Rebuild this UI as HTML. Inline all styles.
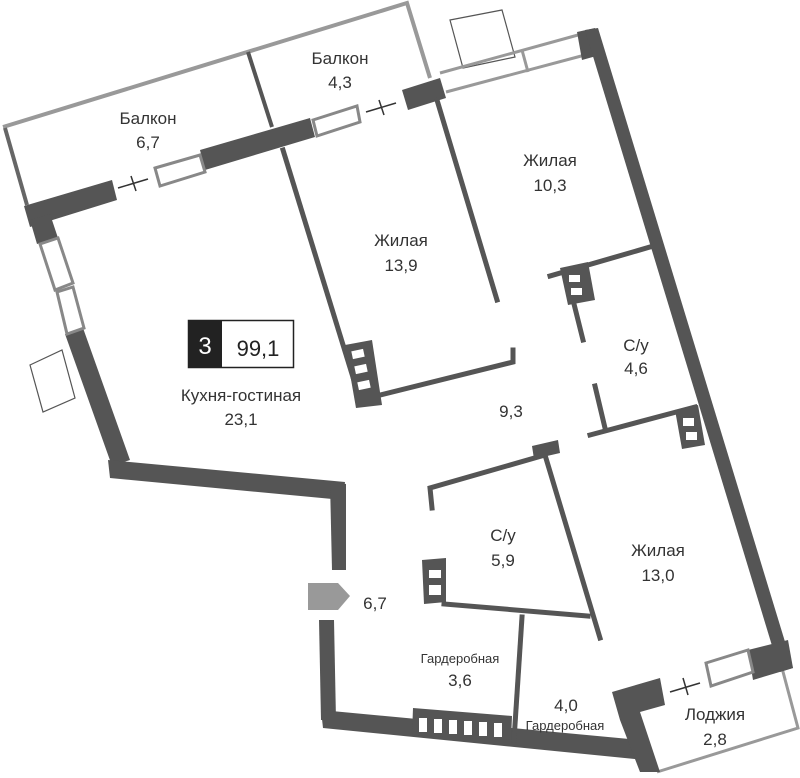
<!DOCTYPE html>
<html><head><meta charset="utf-8"><style>
body{margin:0;background:#fff}
svg{display:block}
text{font-family:"Liberation Sans","DejaVu Sans",sans-serif;fill:#333;text-anchor:middle}
</style></head><body>
<svg width="800" height="778" viewBox="0 0 800 778" xmlns="http://www.w3.org/2000/svg">
<g fill="none" stroke-linejoin="miter">
<polyline points="3,127 407,3 430,78" stroke="#999" stroke-width="4"/>
<line x1="5" y1="128" x2="27" y2="205" stroke="#666" stroke-width="4"/>
<line x1="248" y1="52" x2="272" y2="127" stroke="#555" stroke-width="4"/>
<polygon points="450,20 502,10 515,57 463,68" stroke="#555" stroke-width="1.2" fill="#fff"/>
<polyline points="440,73 578,35" stroke="#999" stroke-width="3"/>
<polyline points="446,92 585,55" stroke="#999" stroke-width="3"/>
<line x1="522" y1="50" x2="528" y2="72" stroke="#999" stroke-width="3"/>
<polygon points="30,365 62,350 75,398 43,412" stroke="#555" stroke-width="1.2" fill="#fff"/>
<polyline points="782,668 798,728 657,772" stroke="#999" stroke-width="3"/>
</g>
<g fill="#555" stroke="none">
<polygon points="24,206 112,180 117,200 30,227"/>
<polygon points="30,220 50,214 58,238 37,244"/>
<polygon points="200,150 310,118 315,137 205,170"/>
<polygon points="402,90 440,78 446,98 408,110"/>
<polygon points="577,32 595,28 600,55 582,60"/>
<polygon points="65,334 83,328 130,460 112,466"/>
<polygon points="585,30 598,28 793,668 780,672"/>
<polygon points="748,650 788,640 793,668 753,680"/>
<polygon points="108,460 345,482 343,500 110,478"/>
<polygon points="330,482 346,484 346,570 332,570"/>
<polygon points="319,620 334,620 336,720 321,720"/>
<polygon points="321,710 640,740 645,760 323,728"/>
<polygon points="612,692 660,678 665,705 640,712 660,772 640,772 620,720"/>
</g>
<g fill="#fff" stroke="#888" stroke-width="3">
<polygon points="155,168 200,155 205,172 160,186"/>
<polygon points="313,120 357,106 360,122 317,136"/>
<polygon points="40,244 58,238 73,283 55,290"/>
<polygon points="57,292 73,287 84,328 67,334"/>
<polygon points="706,663 748,650 753,672 711,686"/>
</g>
<g stroke="#333" stroke-width="1.5">
<line x1="118" y1="188" x2="148" y2="179"/><line x1="131" y1="176" x2="136" y2="191"/>
<line x1="366" y1="112" x2="396" y2="103"/><line x1="379" y1="100" x2="384" y2="115"/>
<line x1="670" y1="692" x2="700" y2="683"/><line x1="683" y1="678" x2="688" y2="695"/>
</g>
<g fill="none" stroke="#555" stroke-width="5" stroke-linecap="square">
<line x1="283" y1="150" x2="360" y2="400"/>
<polyline points="360,400 513,362 513,350"/>
<line x1="437" y1="100" x2="497" y2="300"/>
<polyline points="650,247 550,276"/>
<line x1="573" y1="300" x2="583" y2="340"/>
<line x1="595" y1="386" x2="605" y2="428"/>
<line x1="590" y1="435" x2="695" y2="407"/>
<polyline points="432,508 430,488 545,455 600,638"/>
<polyline points="444,604 588,616"/>
<line x1="522" y1="617" x2="514" y2="740"/>
</g>
<g fill="#555">
<polygon points="532,446 558,440 560,453 534,459"/>
<polygon points="345,345 372,340 382,405 356,408"/>
<polygon points="560,268 588,262 595,300 568,305"/>
<polygon points="675,410 698,405 705,445 682,449"/>
<polygon points="422,560 446,558 446,602 424,604"/>
<polygon points="413,708 512,716 511,740 412,735"/>
</g>
<g fill="#fff">
<rect x="352" y="350" width="12" height="8" transform="rotate(-12 358 354)"/>
<rect x="355" y="365" width="12" height="8" transform="rotate(-12 361 369)"/>
<rect x="358" y="381" width="12" height="8" transform="rotate(-12 364 385)"/>
<rect x="569" y="275" width="11" height="7"/><rect x="571" y="288" width="11" height="7"/>
<rect x="683" y="418" width="11" height="8"/><rect x="686" y="432" width="11" height="8"/>
<rect x="429" y="570" width="12" height="8"/><rect x="429" y="585" width="12" height="10"/>
<rect x="419" y="718" width="8" height="14"/><rect x="434" y="719" width="8" height="14"/><rect x="449" y="720" width="8" height="14"/><rect x="464" y="721" width="8" height="14"/><rect x="479" y="722" width="8" height="14"/><rect x="494" y="723" width="8" height="14"/>
</g>
<polygon points="308,583 338,583 350,596 338,610 308,610" fill="#999"/>
<rect x="188.5" y="320.5" width="105" height="47" fill="#fff" stroke="#222" stroke-width="1.5"/>
<rect x="188" y="320" width="34" height="48" fill="#222"/>
<text x="205" y="354" style="fill:#fff;font-size:24px">3</text>
<text x="258" y="356" style="font-size:22px;fill:#222">99,1</text>
<g style="font-size:17px">
<text x="148" y="124">Балкон</text><text x="148" y="148">6,7</text>
<text x="340" y="64">Балкон</text><text x="340" y="88">4,3</text>
<text x="401" y="246">Жилая</text><text x="401" y="271">13,9</text>
<text x="550" y="166">Жилая</text><text x="550" y="191">10,3</text>
<text x="636" y="351">С/у</text><text x="636" y="374">4,6</text>
<text x="511" y="417">9,3</text>
<text x="241" y="401">Кухня-гостиная</text><text x="241" y="425">23,1</text>
<text x="503" y="541">С/у</text><text x="503" y="566">5,9</text>
<text x="658" y="556">Жилая</text><text x="658" y="581">13,0</text>
<text x="375" y="609">6,7</text>
<text x="460" y="686">3,6</text>
<text x="566" y="711">4,0</text>
<text x="715" y="720">Лоджия</text><text x="715" y="745">2,8</text>
</g>
<g style="font-size:13px">
<text x="460" y="663">Гардеробная</text>
<text x="565" y="730">Гардеробная</text>
</g>
</svg>
</body></html>
